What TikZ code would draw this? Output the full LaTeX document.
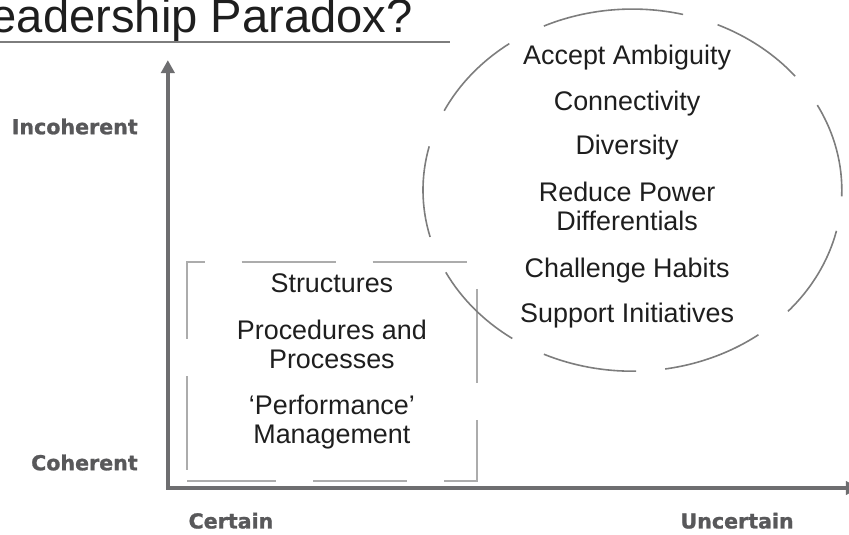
\documentclass[tikz,border=0pt]{standalone}
\usepackage{fontspec}
\setmainfont{Liberation Sans}
\newfontfamily\axisfont{DejaVu Sans}[BoldFeatures={FakeBold=1.2}]
\usetikzlibrary{arrows.meta}
\definecolor{TextBlack}{RGB}{30,30,30}
\definecolor{AxisGray}{RGB}{110,110,112}
\definecolor{LabelGray}{RGB}{88,88,90}
\definecolor{RingGray}{RGB}{125,125,125}
\definecolor{BoxGray}{RGB}{172,172,172}

\begin{document}
\begin{tikzpicture}[
    item/.style={font=\fontsize{20.25}{21.4}\selectfont, text=TextBlack, align=center, inner sep=0pt},
    axislabel/.style={font=\axisfont\bfseries\fontsize{15.5}{18}\selectfont, text=LabelGray, inner sep=0pt},
    ring/.style={RingGray, line width=1.2pt}]
      \useasboundingbox (0,0) rectangle (22.46,14.13);
      % title with its rule
      \node[anchor=base east, inner sep=0pt, font=\fontsize{35.5}{40}\selectfont, text=TextBlack] (title) at (10.93,13.28) {Leadership Paradox?};
      \draw[RingGray, line width=1.5pt] (0,13.02)--(11.90,13.02);
      % axes
      \coordinate (O) at (4.44,1.22);
      \coordinate (ytip) at (4.44,12.54);
      \coordinate (xtip) at (22.72,1.22);
      \draw[AxisGray, line width=3.5pt, {Triangle[length=9.75pt,width=10pt]}-{Triangle[length=9.75pt,width=10pt]}] (ytip)--(O)--(xtip);
      \node[axislabel, anchor=base east] (incoh) at (3.65,10.58) {Incoherent};
      \node[axislabel, anchor=base east] (coh) at (3.65,1.69) {Coherent};
      \node[axislabel, anchor=base] (cert) at (6.11,0.15) {Certain};
      \node[axislabel, anchor=base] (uncert) at (19.50,0.15) {Uncertain};
      % dashed box, lower left
      \draw[BoxGray, line width=1.5pt, dash pattern=on 2.49cm off 0.98cm, dash phase=3.17cm] (4.95,1.40)--(4.95,7.20)--(12.62,7.20)--(12.62,1.40)--cycle;
      \node[item, anchor=base] (struct) at (8.78,6.38) {Structures};
      \node[item, anchor=base] (proc) at (8.78,4.39) {Procedures and\\Processes};
      \node[item, anchor=base] (perf) at (8.78,2.41) {‘Performance’\\Management};
      % dashed ring, upper right: one arc per dash
      \foreach \s/\e in {76/115, 39/66, -2/28, -42/-13, -81/-53, -115/-89, -153/-125, 166/195, 126/154}
        \draw[ring, shift={(16.73,9.10)}] (\s:5.54 and 4.79) arc[start angle=\s, end angle=\e, x radius=5.54, y radius=4.79];
      \node[item, anchor=base] (ambig) at (16.59,12.43) {Accept Ambiguity};
      \node[item, anchor=base] (conn) at (16.59,11.22) {Connectivity};
      \node[item, anchor=base] (div) at (16.59,10.03) {Diversity};
      \node[item, anchor=base] (power) at (16.59,8.04) {Reduce Power\\Differentials};
      \node[item, anchor=base] (habits) at (16.59,6.80) {Challenge Habits};
      \node[item, anchor=base] (init) at (16.59,5.61) {Support Initiatives};
    \end{tikzpicture}
\end{document}
